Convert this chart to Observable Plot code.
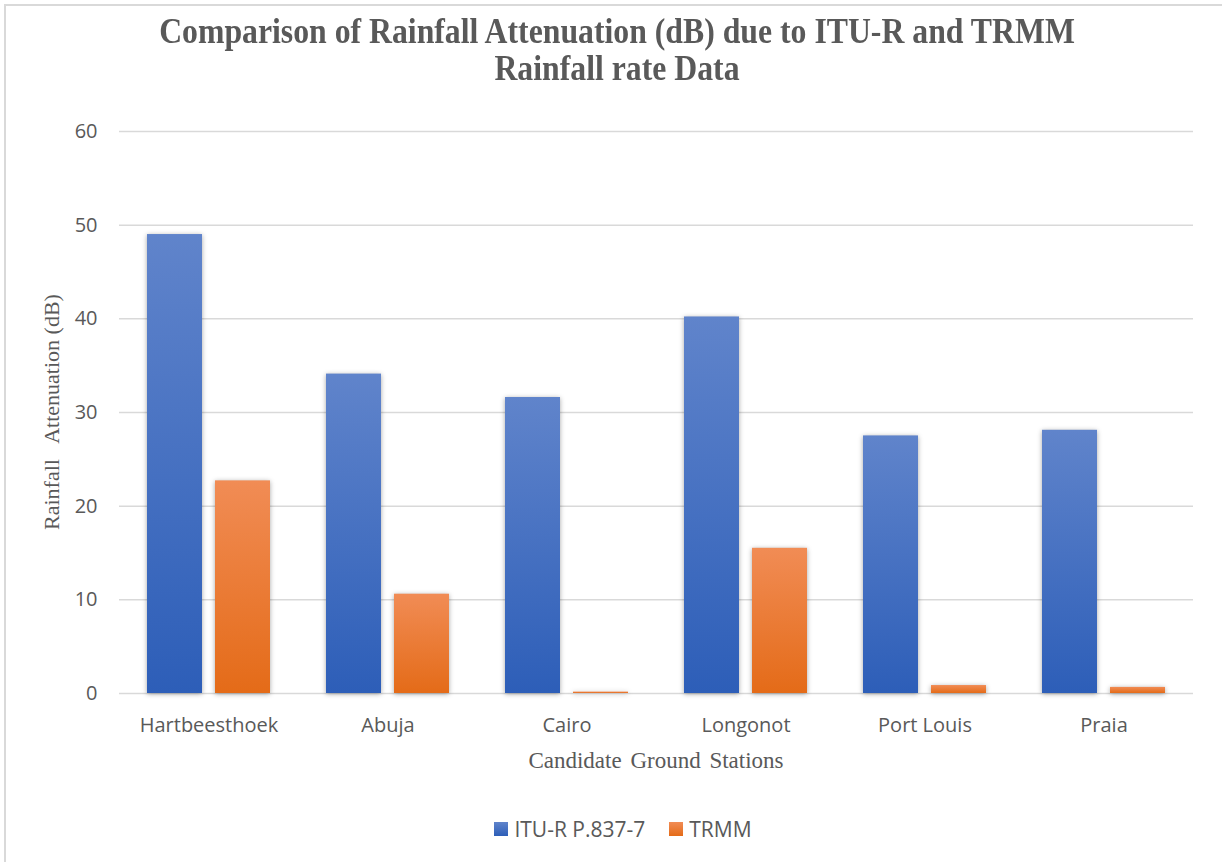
<!DOCTYPE html>
<html>
<head>
<meta charset="utf-8">
<script src="https://cdn.jsdelivr.net/npm/d3@7"></script>
<script src="https://cdn.jsdelivr.net/npm/@observablehq/plot@0.6"></script>
<style>
  html, body { margin: 0; padding: 0; background: #fff; }
  #chart { position: relative; width: 1222px; height: 862px; overflow: hidden; background: #fff; }
  #frame { position: absolute; left: 4px; top: 4px; width: 1300px; height: 900px;
           border-left: 2px solid #d9d9d9; border-top: 2px solid #d9d9d9; }
  #title { position: absolute; left: 0; top: 13px; width: 1234px; text-align: center;
           font-family: "Liberation Serif", "Times New Roman", serif; font-weight: bold;
           font-size: 35px; line-height: 37px; color: #595959;
           transform: scaleX(0.907); transform-origin: 617px 0; }
  #ylabel { position: absolute; left: -148px; top: 400px; width: 400px; height: 24px; line-height: 24px;
            text-align: center; font-family: "Liberation Serif", "Times New Roman", serif;
            font-size: 22px; color: #595959; transform: rotate(-90deg); transform-origin: 200px 12px; }
  #xlabel { position: absolute; left: 117px; top: 748px; width: 1078px; text-align: center;
            font-family: "Liberation Serif", "Times New Roman", serif; font-size: 23px; line-height: 26px;
            word-spacing: 3px; color: #595959; }
  #plot { position: absolute; left: 66px; top: 100px; }
  #legend { position: absolute; left: 0; top: 815px; width: 1246px; height: 28px;
            display: flex; justify-content: center; align-items: center; gap: 24px;
            font-family: "Open Sans", sans-serif; font-size: 21px; color: #595959; }
  .item { display: flex; align-items: center; gap: 6px; }
  .sw { width: 14px; height: 14px; display: inline-block; }
</style>
</head>
<body>
<div id="chart">
  <div id="frame"></div>
  <div id="title">Comparison of Rainfall Attenuation (dB) due to ITU-R and TRMM<br>Rainfall rate Data</div>
  <div id="plot"></div>
  <div id="ylabel">Rainfall&nbsp;&nbsp; Attenuation (dB)</div>
  <div id="xlabel">Candidate Ground Stations</div>
  <div id="legend"></div>
</div>
<script>
// ---- data ----
const stations = ["Hartbeesthoek", "Abuja", "Cairo", "Longonot", "Port Louis", "Praia"];
const seriesNames = ["ITU-R P.837-7", "TRMM"];
const ituValues = [49.0, 34.1, 31.6, 40.2, 27.5, 28.1];
const trmmValues = [22.7, 10.6, 0.15, 15.5, 0.85, 0.65];
const yTicks = [0, 10, 20, 30, 40, 50, 60];

// ---- styling ----
const gradients = [
  {id: "gBlue", top: "#6084cb", bottom: "#2d5eb8"},
  {id: "gOrange", top: "#f18c55", bottom: "#e46b18"}
];

const rows = [];
stations.forEach((s, i) => {
  rows.push({station: s, series: seriesNames[0], value: ituValues[i]});
  rows.push({station: s, series: seriesNames[1], value: trmmValues[i]});
});

const svg = Plot.plot({
  width: 1156,
  height: 643,
  marginLeft: 51,
  marginRight: 27,
  marginTop: 31,
  marginBottom: 50,
  style: {fontFamily: "'Open Sans', sans-serif", fontSize: "20px", color: "#595959", background: "transparent", overflow: "visible"},
  facet: {data: rows, x: "station"},
  fx: {domain: stations, padding: 0, axis: "bottom", tickSize: 0, tickPadding: 24, label: null},
  x: {domain: seriesNames, paddingInner: 0.1884, paddingOuter: 0.396, axis: null},
  y: {domain: [0, 60], ticks: yTicks, tickSize: 0, tickPadding: 22, label: null},
  color: {domain: seriesNames, range: gradients.map(g => `url(#${g.id})`)},
  marks: [
    Plot.ruleY(yTicks, {stroke: "#d9d9d9", strokeWidth: 1.5}),
    Plot.barY(rows, {x: "series", y: "value", fill: "series"})
  ]
});

const sel = d3.select(svg);
const defs = sel.insert("defs", ":first-child");
gradients.forEach(g => {
  const lg = defs.append("linearGradient").attr("id", g.id)
    .attr("x1", 0).attr("y1", 0).attr("x2", 0).attr("y2", 1);
  lg.append("stop").attr("offset", "0%").attr("stop-color", g.top);
  lg.append("stop").attr("offset", "100%").attr("stop-color", g.bottom);
});
sel.selectAll("rect").filter(function() {
  const f = this.getAttribute("fill") || "";
  return f.indexOf("url(") === 0;
}).style("filter", "drop-shadow(0px 1px 2.5px rgba(0,0,0,0.35))");

document.getElementById("plot").appendChild(svg);

// legend
const legend = document.getElementById("legend");
seriesNames.forEach((name, i) => {
  const item = document.createElement("span");
  item.className = "item";
  const sw = document.createElement("span");
  sw.className = "sw";
  sw.style.background = `linear-gradient(${gradients[i].top}, ${gradients[i].bottom})`;
  const t = document.createElement("span");
  t.textContent = name;
  item.appendChild(sw);
  item.appendChild(t);
  legend.appendChild(item);
});
</script>
</body>
</html>
